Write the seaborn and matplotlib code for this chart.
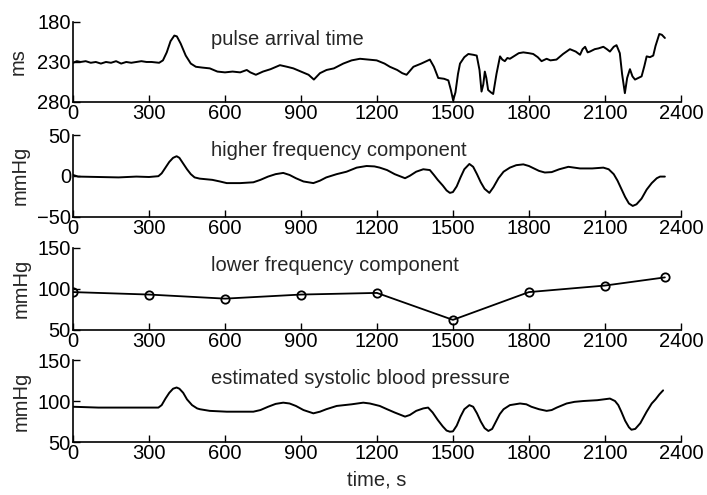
import matplotlib
matplotlib.use("Agg")
import matplotlib.pyplot as plt
import seaborn as sns
import pandas as pd

# ---- data ----
pat_t = [0, 15, 30, 50, 70, 90, 110, 130, 150, 170, 190, 210, 230, 250, 270, 290, 310, 340,
         355, 370, 385, 400, 410, 425, 445, 465, 485, 510, 540, 570, 600, 630, 660, 686, 700,
         722, 750, 780, 817, 845, 870, 900, 930, 951, 975, 1001, 1030, 1067, 1100, 1133, 1165,
         1199, 1230, 1251, 1280, 1300, 1317, 1344, 1375, 1409, 1425, 1442, 1465, 1482, 1492,
         1501, 1510, 1520, 1528, 1545, 1561, 1580, 1594, 1605, 1613, 1620, 1626, 1632, 1639,
         1650, 1659, 1672, 1686, 1695, 1705, 1715, 1725, 1745, 1760, 1778, 1800, 1817, 1835,
         1850, 1870, 1885, 1909, 1935, 1962, 1985, 2002, 2012, 2022, 2032, 2041, 2060, 2075,
         2094, 2108, 2120, 2135, 2146, 2159, 2168, 2179, 2188, 2199, 2209, 2219, 2232, 2245,
         2256, 2265, 2278, 2291, 2300, 2315, 2325, 2337]
pat_v = [231, 229, 230, 229, 231, 230, 232, 230, 231, 229, 232, 230, 231, 230, 229, 230, 230, 231,
         228, 218, 204, 197, 198, 207, 222, 232, 236, 237, 238, 242, 243, 242, 243, 240, 243,
         246, 242, 239, 234, 236, 238, 242, 246, 252, 244, 240, 238, 232, 228, 226, 227,
         228, 232, 236, 240, 244, 246, 236, 232, 227, 236, 250, 251, 253, 265,
         278, 268, 245, 232, 224, 220, 221, 222, 240, 267, 258, 242, 250, 265,
         268, 270, 245, 223, 227, 229, 225, 226, 222, 219, 218, 219, 220, 224,
         229, 226, 228, 227, 220, 214, 217, 221, 214, 211, 218, 217, 214, 213,
         211, 214, 217, 211, 209, 219, 245, 269, 250, 239, 248, 252, 250, 248,
         235, 223, 224, 222, 210, 195, 196, 200]

hf_t = [0, 20, 100, 180, 250, 300, 337, 350, 365, 380, 395, 409, 420, 435, 450, 465, 480, 500,
        550, 580, 607, 660, 712, 740, 770, 800, 830, 855, 880, 910, 949, 975, 1000, 1041, 1080,
        1120, 1159, 1190, 1211, 1240, 1270, 1311, 1330, 1355, 1383, 1409, 1425, 1440, 1460,
        1475, 1488, 1500, 1515, 1530, 1545, 1565, 1580, 1595, 1610, 1625, 1644, 1660, 1680,
        1700, 1725, 1750, 1778, 1800, 1820, 1840, 1863, 1890, 1920, 1956, 2002, 2050, 2094,
        2115, 2135, 2150, 2165, 2180, 2195, 2210, 2225, 2245, 2265, 2285, 2305, 2318, 2337]
hf_v = [1, -1, -1.5, -2, -1, -1.5, -0.5, 3, 10, 17, 22, 24, 22, 15, 8, 2, -2, -3.5,
        -5, -7, -9, -9, -8, -5, -1, 2, 3.5, 1, -3, -7, -9, -6, -2, 2, 5,
        10, 12, 11.5, 10, 7, 2, -3, 0, 5, 8, 7, 1, -5, -12,
        -18, -21, -20, -13, -2, 8, 14.5, 11, 2, -8, -16, -21, -14, -3,
        5, 10, 13, 14, 12, 9, 6, 4, 4.5, 8, 11, 9, 9, 10,
        8, 2, -6, -16, -26, -34, -37, -35, -28, -17, -9, -3, -1, -1]

lf_t = [0, 300, 600, 900, 1200, 1500, 1800, 2100, 2337]
lf_v = [96, 93, 88, 93, 95, 62, 96, 104, 114]

sbp_t = [0, 100, 200, 300, 337, 350, 365, 380, 395, 409, 420, 435, 450, 470, 490, 501, 540, 607,
         660, 712, 740, 770, 800, 830, 855, 880, 910, 949, 975, 1000, 1041, 1100, 1146, 1172,
         1211, 1240, 1270, 1311, 1330, 1355, 1383, 1402, 1420, 1440, 1460, 1475, 1488, 1500,
         1515, 1530, 1545, 1565, 1580, 1595, 1610, 1625, 1640, 1655, 1670, 1685, 1700, 1725,
         1765, 1790, 1810, 1840, 1870, 1890, 1910, 1949, 1980, 2015, 2070, 2120, 2140, 2153,
         2165, 2180, 2195, 2205, 2220, 2240, 2265, 2285, 2300, 2315, 2330]
sbp_v = [93, 92, 92, 92, 92, 95, 103, 110, 115, 116.5, 115, 110, 102, 95, 91, 90, 88, 87,
         87, 87, 89, 93, 96.5, 98, 97, 94, 89, 85, 87, 90, 94, 96, 98, 97,
         94, 90, 86, 81, 83, 88, 91, 92, 86, 77, 69, 64, 62.6, 63,
         70, 81, 90, 95, 93, 85, 75, 67, 63.5, 66, 75, 84, 90, 95,
         97, 96, 93, 90, 88, 89, 92, 97, 99, 100, 101, 103, 100, 95,
         87, 76, 68, 65, 66, 73, 87, 97, 102, 108, 113]

x_ticks = [0, 300, 600, 900, 1200, 1500, 1800, 2100, 2400]
titles = ["pulse arrival time", "higher frequency component",
          "lower frequency component", "estimated systolic blood pressure"]
ylabels = ["ms", "mmHg", "mmHg", "mmHg"]
yticks = [[180, 230, 280], [-50, 0, 50], [50, 100, 150], [50, 100, 150]]
xlabel = "time, s"

# ---- style ----
sns.set_theme(style="ticks")
plt.rcParams["font.family"] = ["Liberation Sans", "DejaVu Sans"]
plt.rcParams["xtick.direction"] = "in"
plt.rcParams["ytick.direction"] = "in"
FS = 14.5

fig = plt.figure(figsize=(7.07, 4.95), dpi=100)
left, width = 0.1033, 0.8597
boxes = [(0.794, 0.1616), (0.5626, 0.1646), (0.334, 0.165), (0.107, 0.1657)]
axes = [fig.add_axes([left, b, width, h]) for b, h in boxes]

series = [(pat_t, pat_v), (hf_t, hf_v), (lf_t, lf_v), (sbp_t, sbp_v)]
text_y = [202, 31, 129, 128]
label_pads = [7, 5, 5, 5]

for i, (ax, (t, v)) in enumerate(zip(axes, series)):
    df = pd.DataFrame({"t": t, "v": v})
    if i == 2:
        sns.lineplot(data=df, x="t", y="v", ax=ax, color="black", linewidth=1.3,
                     marker="o", markersize=6, markerfacecolor="none",
                     markeredgecolor="black", markeredgewidth=1.3)
    else:
        sns.lineplot(data=df, x="t", y="v", ax=ax, color="black", linewidth=1.4)
    ax.set_xlim(0, 2400)
    yt = yticks[i]
    if i == 0:
        ax.set_ylim(280, 180)
    else:
        ax.set_ylim(yt[0], yt[-1])
    ax.set_yticks(yt)
    ax.set_xticks(x_ticks)
    ax.tick_params(axis="both", labelsize=FS, length=5, width=1, colors="black", pad=1.5)
    for s in ["top", "right"]:
        ax.spines[s].set_visible(False)
    for s in ["left", "bottom"]:
        ax.spines[s].set_color("black")
        ax.spines[s].set_linewidth(1.2)
    ax.set_ylabel(ylabels[i], fontsize=FS, labelpad=label_pads[i])
    ax.set_xlabel("")
    ax.text(545, text_y[i], titles[i], fontsize=FS, va="center", ha="left")

axes[-1].set_xlabel(xlabel, fontsize=FS, labelpad=5)

fig.savefig("out.png", dpi=100)
